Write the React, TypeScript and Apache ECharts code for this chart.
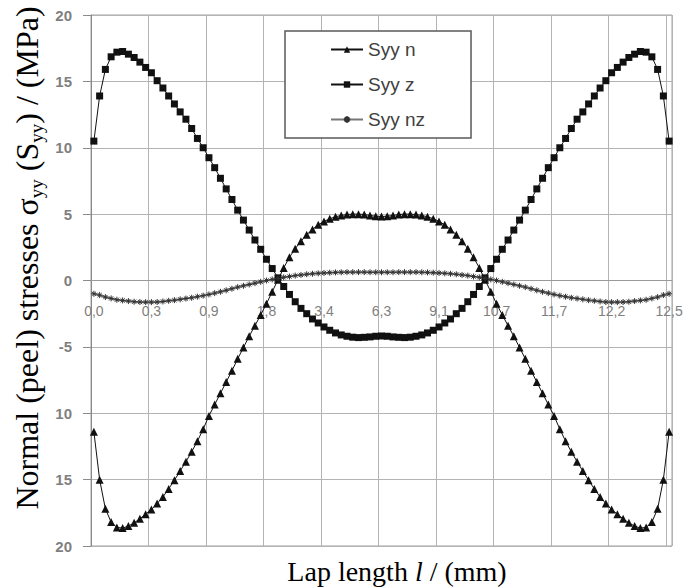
import React, { useEffect, useRef } from "react";
import * as echarts from "echarts";

const lapLength = [
  0.0, 0.01, 0.02, 0.04, 0.06, 0.09, 0.12, 0.16, 0.2, 0.25, 0.3,
  0.36, 0.42, 0.48, 0.54, 0.6, 0.66, 0.72, 0.78, 0.84, 0.9,
  0.98, 1.07, 1.16, 1.25, 1.34, 1.43, 1.52, 1.61, 1.7, 1.8,
  1.95, 2.1, 2.26, 2.42, 2.58, 2.74, 2.9, 3.06, 3.22, 3.4,
  3.68, 3.96, 4.24, 4.52, 4.8, 5.09, 5.38, 5.67, 5.96, 6.25,
  6.54, 6.83, 7.12, 7.41, 7.7, 7.98, 8.26, 8.54, 8.82, 9.1,
  9.26, 9.42, 9.58, 9.74, 9.9, 10.06, 10.22, 10.38, 10.54, 10.7,
  10.8, 10.9, 11.0, 11.1, 11.2, 11.3, 11.4, 11.5, 11.6, 11.7,
  11.76, 11.81, 11.86, 11.91, 11.96, 12.01, 12.06, 12.11, 12.16, 12.2,
  12.25, 12.3, 12.34, 12.38, 12.41, 12.44, 12.46, 12.48, 12.49, 12.5,
];

const syyN = [
  -11.4, -15.0, -17.2, -18.2, -18.6, -18.65, -18.5, -18.25, -17.95, -17.6, -17.25,
  -16.8, -16.3, -15.7, -15.05, -14.35, -13.65, -12.9, -12.1, -11.2, -10.2,
  -9.35, -8.5, -7.65, -6.8, -5.9, -5.05, -4.2, -3.4, -2.6, -1.75,
  -0.85, 0.05, 0.95, 1.75, 2.4, 2.95, 3.45, 3.85, 4.2, 4.45,
  4.65, 4.8, 4.9, 4.97, 5.0, 5.0, 4.97, 4.9, 4.84, 4.82,
  4.84, 4.9, 4.97, 5.0, 5.0, 4.97, 4.9, 4.8, 4.65, 4.45,
  4.2, 3.85, 3.45, 2.95, 2.4, 1.75, 0.95, 0.05, -0.85, -1.75,
  -2.6, -3.4, -4.2, -5.05, -5.9, -6.8, -7.65, -8.5, -9.35, -10.2,
  -11.2, -12.1, -12.9, -13.65, -14.35, -15.05, -15.7, -16.3, -16.8, -17.25,
  -17.6, -17.95, -18.25, -18.5, -18.65, -18.6, -18.2, -17.2, -15.0, -11.4,
];

const syyZ = [
  10.5, 13.9, 15.9, 16.85, 17.2, 17.25, 17.05, 16.8, 16.45, 16.05, 15.65,
  15.05, 14.5, 13.9, 13.3, 12.7, 12.15, 11.45, 10.7, 10.0, 9.25,
  8.5, 7.7, 6.9, 6.1, 5.3, 4.55, 3.8, 3.05, 2.35, 1.6,
  0.9, 0.2, -0.45, -1.05, -1.6, -2.1, -2.5, -2.9, -3.2, -3.5,
  -3.75, -3.95, -4.1, -4.2, -4.27, -4.3, -4.28, -4.25, -4.2, -4.18,
  -4.2, -4.25, -4.28, -4.3, -4.27, -4.2, -4.1, -3.95, -3.75, -3.5,
  -3.2, -2.9, -2.5, -2.1, -1.6, -1.05, -0.45, 0.2, 0.9, 1.6,
  2.35, 3.05, 3.8, 4.55, 5.3, 6.1, 6.9, 7.7, 8.5, 9.25,
  10.0, 10.7, 11.45, 12.15, 12.7, 13.3, 13.9, 14.5, 15.05, 15.65,
  16.05, 16.45, 16.8, 17.05, 17.25, 17.2, 16.85, 15.9, 13.9, 10.5,
];

const syyNZ = [
  -1.0, -1.1, -1.25, -1.35, -1.45, -1.5, -1.55, -1.6, -1.62, -1.63, -1.63,
  -1.62, -1.58, -1.53, -1.48, -1.42, -1.36, -1.3, -1.22, -1.14, -1.05,
  -0.95, -0.85, -0.74, -0.62, -0.5, -0.4, -0.3, -0.2, -0.1, 0.0,
  0.08, 0.16, 0.24, 0.3, 0.37, 0.42, 0.47, 0.51, 0.54, 0.57,
  0.59, 0.61, 0.62, 0.63, 0.63, 0.63, 0.63, 0.62, 0.62, 0.62,
  0.62, 0.62, 0.63, 0.63, 0.63, 0.63, 0.62, 0.61, 0.59, 0.57,
  0.54, 0.51, 0.47, 0.42, 0.37, 0.3, 0.24, 0.16, 0.08, 0.0,
  -0.1, -0.2, -0.3, -0.4, -0.5, -0.62, -0.74, -0.85, -0.95, -1.05,
  -1.14, -1.22, -1.3, -1.36, -1.42, -1.48, -1.53, -1.58, -1.62, -1.63,
  -1.63, -1.62, -1.6, -1.55, -1.5, -1.45, -1.35, -1.25, -1.1, -1.0,
];

const seriesNames = ["Syy n", "Syy z", "Syy nz"];
const yTitle = "Normal (peel) stresses σ{s|yy} (S{s|yy}) / (MPa)";
const xTitle = "Lap length {i|l} / (mm)";

const gridColor = "#b3b3b3";
const labelColor = "#7f7f7f";

export default function App() {
  const ref = useRef<HTMLDivElement>(null);

  useEffect(() => {
    document.body.style.margin = "0";
    const chart = echarts.init(ref.current as HTMLDivElement, null, { renderer: "svg" });
    chart.setOption({
      animation: false,
      backgroundColor: "#ffffff",
      grid: {
        left: 91,
        right: 14,
        top: 15,
        bottom: 41,
        show: true,
        borderColor: "#a0a0a0",
        borderWidth: 1,
      },
      legend: {
        orient: "vertical",
        left: 285,
        top: 31,
        padding: [9, 46, 9, 45],
        itemGap: 16,
        itemWidth: 32,
        itemHeight: 8,
        borderColor: "#595959",
        borderWidth: 1.5,
        backgroundColor: "#ffffff",
        textStyle: { fontSize: 19, color: "#404040", fontFamily: "Liberation Sans" },
        data: seriesNames,
      },
      xAxis: {
        type: "category",
        data: lapLength,
        boundaryGap: true,
        position: "bottom",
        offset: -266,
        axisLine: { onZero: false, lineStyle: { color: "#9a9a9a", width: 1 } },
        axisTick: { show: false, interval: 9 },
        axisLabel: {
          interval: 9,
          margin: 24,
          color: labelColor,
          fontSize: 14,
          fontFamily: "Liberation Sans",
          formatter: (v: string) => Number(v).toFixed(1).replace(".", ","),
        },
        splitLine: { show: true, interval: 9, lineStyle: { color: gridColor, width: 1 } },
      },
      yAxis: {
        type: "value",
        min: -20,
        max: 20,
        interval: 5,
        axisLine: { show: true, onZero: false, lineStyle: { color: "#8a8a8a", width: 1 } },
        axisTick: { show: true, length: 8, lineStyle: { color: "#8a8a8a" } },
        axisLabel: {
          margin: 19,
          color: labelColor,
          fontWeight: "bold",
          fontSize: 15,
          fontFamily: "Liberation Sans",
          formatter: (v: number) => (v === -5 ? "-5" : String(Math.abs(v))),
        },
        splitLine: { show: true, lineStyle: { color: gridColor, width: 1 } },
      },
      graphic: [
        {
          type: "text",
          x: 27,
          y: 258,
          rotation: Math.PI / 2,
          style: {
            text: yTitle,
            fontFamily: "Liberation Serif",
            fontSize: 32,
            lineHeight: 38,
            fill: "#000",
            align: "center",
            verticalAlign: "middle",
            rich: {
              s: { fontFamily: "Liberation Serif", fontSize: 19, lineHeight: 19, verticalAlign: "bottom", fill: "#000" },
            },
          },
        },
        {
          type: "text",
          x: 397,
          y: 571,
          style: {
            text: xTitle,
            fontFamily: "Liberation Serif",
            fontSize: 28,
            fill: "#000",
            align: "center",
            verticalAlign: "middle",
            rich: {
              i: { fontFamily: "Liberation Serif", fontSize: 28, fontStyle: "italic", fill: "#000" },
            },
          },
        },
      ],
      series: [
        {
          name: seriesNames[0],
          type: "line",
          data: syyN,
          symbol: "triangle",
          symbolSize: 8,
          showAllSymbol: true,
          itemStyle: { color: "#111" },
          lineStyle: { color: "#111", width: 1 },
        },
        {
          name: seriesNames[1],
          type: "line",
          data: syyZ,
          symbol: "rect",
          symbolSize: 7,
          showAllSymbol: true,
          itemStyle: { color: "#111" },
          lineStyle: { color: "#111", width: 1 },
        },
        {
          name: seriesNames[2],
          type: "line",
          data: syyNZ,
          symbol: "path://M5 0V10M0 5H10M1.5 1.5L8.5 8.5M8.5 1.5L1.5 8.5",
          symbolSize: 6,
          showAllSymbol: true,
          itemStyle: { color: "#333", borderColor: "#333", borderWidth: 1 },
          lineStyle: { color: "#777", width: 2 },
        },
      ],
    });
    return () => chart.dispose();
  }, []);

  return <div ref={ref} style={{ width: 686, height: 587 }} />;
}
